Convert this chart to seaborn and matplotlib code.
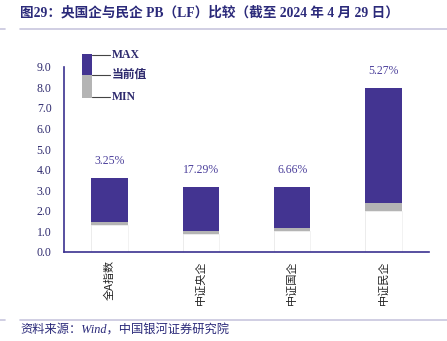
import matplotlib
matplotlib.use("Agg")
import matplotlib.pyplot as plt
import seaborn as sns
import pandas as pd
from matplotlib.lines import Line2D
from matplotlib.patches import Rectangle

categories = ["全A指数", "中证央企", "中证国企", "中证民企"]
pb_max = [3.58, 3.14, 3.14, 7.96]
pb_cur = [1.44, 1.02, 1.15, 2.39]
pb_min = [1.31, 0.86, 1.03, 1.97]
pct_labels = ["3.25%", "17.29%", "6.66%", "5.27%"]
yticks = [0.0, 1.0, 2.0, 3.0, 4.0, 5.0, 6.0, 7.0, 8.0, 9.0]

sns.set_style("white")
plt.rcParams["font.family"] = ["Liberation Serif", "Noto Sans CJK SC", "DejaVu Sans"]

PURPLE = "#433491"
GRAY = "#B4B4B4"
AXC = "#3B3190"
TXT = "#2E2A6E"

df = pd.DataFrame({"cat": categories, "max": pb_max, "cur": pb_cur, "min": pb_min})

fig = plt.figure(figsize=(4.47, 3.41), dpi=100)
ax = fig.add_axes([64/447, 1-252/341, (429-64)/447, (252-66.7)/341])

sns.barplot(data=df, x="cat", y="max", color=PURPLE, saturation=1, width=0.4, ax=ax, linewidth=0)
sns.barplot(data=df, x="cat", y="cur", color=GRAY, saturation=1, width=0.4, ax=ax, linewidth=0)
sns.barplot(data=df, x="cat", y="min", color="white", saturation=1, width=0.4, ax=ax,
            linewidth=0.6, edgecolor="#F0F0F0")

ax.set_ylim(0, 9.0)
ax.set_xlim(-0.5, 3.5)
ax.set_yticks(yticks)
ax.set_yticklabels([f"{v:.1f}" for v in yticks], fontsize=8.5, color=TXT)
ax.set_xticks(range(len(categories)))
ax.set_xticklabels(categories, rotation=90, fontsize=8, color="#222222",
                   family=["Noto Sans CJK SC"])
ax.tick_params(axis="x", length=0, pad=6)
ax.set_xticks([0.5, 1.5, 2.5, 3.5], minor=True)
ax.tick_params(axis="x", which="minor", direction="in", length=3, color=AXC, width=1)
ax.tick_params(axis="y", direction="in", length=3, color=AXC, width=1, pad=9)
ax.set_xlabel("")
ax.set_ylabel("")
for s in ["top", "right"]:
    ax.spines[s].set_visible(False)
for s in ["left", "bottom"]:
    ax.spines[s].set_color(AXC)
    ax.spines[s].set_linewidth(1.2)

for i, (lab, top) in enumerate(zip(pct_labels, pb_max)):
    ax.annotate(lab, (i, top), xytext=(0, 8), textcoords="offset points",
                ha="center", va="bottom", fontsize=8.5, color="#4B3F9B")

# legend drawn in figure pixels
def fx(x): return x/447
def fy(y): return 1-y/341
fig.patches.append(Rectangle((fx(81.7), fy(75)), fx(10), 21.3/341, transform=fig.transFigure,
                             facecolor=PURPLE, edgecolor="none"))
fig.patches.append(Rectangle((fx(81.7), fy(98.3)), fx(10), 23.3/341, transform=fig.transFigure,
                             facecolor=GRAY, edgecolor="none"))
for y, t in [(55, "MAX"), (75, "当前值"), (97, "MIN")]:
    fig.add_artist(Line2D([fx(91.7), fx(110)], [fy(y), fy(y)], transform=fig.transFigure,
                          color="#444444", lw=0.8))
    fig.text(fx(112), fy(y), t, fontsize=8.5, color=TXT, va="center", ha="left",
             fontweight="bold")

# title
fig.text(fx(20), fy(13), "图29：央国企与民企 PB（LF）比较（截至 2024 年 4 月 29 日）",
         fontsize=9.8, fontweight="bold", color="#2B2A7A", va="center", ha="left")
fig.add_artist(Line2D([fx(20), 1], [fy(29), fy(29)], transform=fig.transFigure,
                      color="#C8C6DE", lw=1.2))
fig.add_artist(Line2D([0, fx(5)], [fy(29), fy(29)], transform=fig.transFigure,
                      color="#C8C6DE", lw=1.2))
# footer
fig.add_artist(Line2D([fx(20), 1], [fy(320), fy(320)], transform=fig.transFigure,
                      color="#C8C6DE", lw=1.2))
fig.add_artist(Line2D([0, fx(5)], [fy(320), fy(320)], transform=fig.transFigure,
                      color="#C8C6DE", lw=1.2))
fig.text(fx(20), fy(331), "资料来源：Wind，中国银河证券研究院", fontsize=8.8, style="italic",
         color="#2B2A7A", va="center", ha="left")

fig.savefig("out.png", dpi=100)
